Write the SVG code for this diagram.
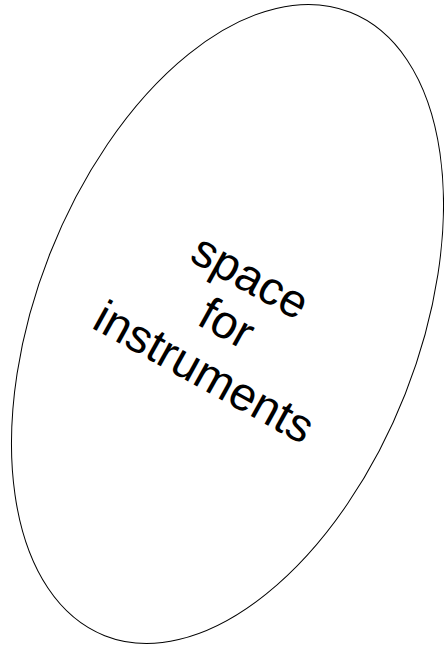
<svg xmlns="http://www.w3.org/2000/svg" width="444" height="648" viewBox="0 0 444 648">
<style>
.shape{fill:#fff;stroke:#000;stroke-width:1}
.lbl{font-family:"Liberation Sans",Arial,sans-serif;font-size:47px;fill:#000;text-anchor:middle}
</style>
<rect width="444" height="648" fill="#fff"/>
<g id="space-for-instruments">
<ellipse class="shape" cx="227.5" cy="324" rx="191" ry="335" transform="rotate(21.5 227.5 324)"/>
<g transform="translate(231 324) rotate(29)">
<text class="lbl" x="-6" y="-35">space</text>
<text class="lbl" x="-4" y="17">for</text>
<text class="lbl" x="0" y="71">instruments</text>
</g>
</g>
<g id="connectors"/>
</svg>
